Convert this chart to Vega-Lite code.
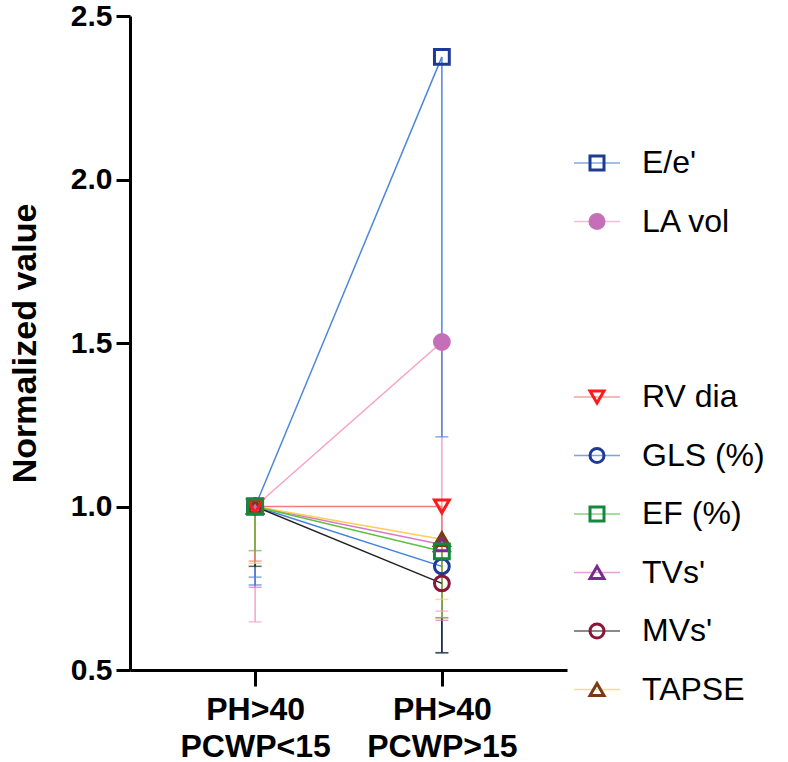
{
  "$schema": "https://vega.github.io/schema/vega-lite/v6.json",
  "width": 437,
  "height": 654,
  "autosize": {"type": "none"},
  "padding": {"left": 130, "top": 16, "right": 221, "bottom": 92},
  "background": "white",
  "config": {
    "view": {"stroke": null},
    "font": "Liberation Sans",
    "axis": {"grid": false, "domainColor": "black", "domainWidth": 3, "tickColor": "black", "tickWidth": 3, "labelColor": "black", "labelFont": "Liberation Sans", "labelFontWeight": "bold", "titleFont": "Liberation Sans", "titleColor": "black"}
  },
  "data": {
    "values": [
      {"series": "LA vol", "group": "PCWP<15", "value": 1.0, "lower": 0.647},
      {"series": "TVs'", "group": "PCWP<15", "value": 1.0, "lower": 0.753},
      {"series": "GLS (%)", "group": "PCWP<15", "value": 1.0, "lower": 0.76},
      {"series": "E/e'", "group": "PCWP<15", "value": 1.0, "lower": 0.784},
      {"series": "MVs'", "group": "PCWP<15", "value": 1.0, "lower": 0.817},
      {"series": "TAPSE", "group": "PCWP<15", "value": 1.0, "lower": 0.826},
      {"series": "RV dia", "group": "PCWP<15", "value": 1.0, "lower": 0.833},
      {"series": "EF (%)", "group": "PCWP<15", "value": 1.0, "lower": 0.865},
      {"series": "LA vol", "group": "PCWP>15", "value": 1.503, "lower": 0.68},
      {"series": "TVs'", "group": "PCWP>15", "value": 0.884, "lower": 0.652},
      {"series": "GLS (%)", "group": "PCWP>15", "value": 0.817, "lower": 0.552},
      {"series": "E/e'", "group": "PCWP>15", "value": 2.375, "lower": 1.213},
      {"series": "MVs'", "group": "PCWP>15", "value": 0.765, "lower": 0.553},
      {"series": "TAPSE", "group": "PCWP>15", "value": 0.9, "lower": 0.716},
      {"series": "RV dia", "group": "PCWP>15", "value": 1.0, "lower": 0.66},
      {"series": "EF (%)", "group": "PCWP>15", "value": 0.863, "lower": 0.66}
    ]
  },
  "encoding": {
    "x": {
      "field": "group", "type": "ordinal",
      "scale": {"type": "point", "padding": 0.67, "domain": ["PCWP<15", "PCWP>15"]},
      "axis": {"title": null, "labelAngle": 0, "labelFontSize": 32, "labelLineHeight": 37, "labelPadding": 8, "tickSize": 16, "labelExpr": "['PH>40', datum.label]"}
    },
    "y": {
      "field": "value", "type": "quantitative",
      "scale": {"domain": [0.5, 2.5], "zero": false, "nice": false},
      "axis": {"title": "Normalized value", "titleFontSize": 34, "titleFontWeight": "bold", "titlePadding": 28, "values": [0.5, 1.0, 1.5, 2.0, 2.5], "format": ".1f", "labelFontSize": 30, "tickSize": 14, "labelPadding": 4}
    }
  },
  "layer": [
    {
      "mark": {"type": "rule", "strokeWidth": 1.5},
      "encoding": {
        "y2": {"field": "lower"},
        "color": {"field": "series", "type": "nominal",
          "scale": {"domain": ["E/e'", "LA vol", "\u2002", "\u2003", "RV dia", "GLS (%)", "EF (%)", "TVs'", "MVs'", "TAPSE"], "range": ["#4f86dc", "#f5a3c7", "transparent", "transparent", "#f57a7a", "#3f7fe0", "#5cc13f", "#d979c9", "#222222", "#ffcc55"]},
          "legend": {"orient": "none", "legendX": 443, "legendY": 123, "title": null, "symbolType": "stroke", "symbolSize": 2116, "symbolStrokeWidth": 1.5, "labelOpacity": 0, "labelExpr": "''", "labelFontSize": 30, "rowPadding": 19.5}}
      }
    },
    {
      "mark": {"type": "tick", "size": 13, "thickness": 1.5},
      "encoding": {
        "y": {"field": "lower", "type": "quantitative"},
        "color": {"field": "series", "type": "nominal",
          "legend": {"orient": "none", "legendX": 443, "legendY": 123, "title": null, "symbolType": "stroke", "symbolSize": 2116, "symbolStrokeWidth": 1.5, "labelOpacity": 0, "labelExpr": "''", "labelFontSize": 30, "rowPadding": 19.5}}
      }
    },
    {
      "mark": {"type": "line", "strokeWidth": 1.5},
      "encoding": {
        "color": {"field": "series", "type": "nominal",
          "legend": {"orient": "none", "legendX": 443, "legendY": 123, "title": null, "symbolType": "stroke", "symbolSize": 2116, "symbolStrokeWidth": 1.5, "labelOpacity": 0, "labelExpr": "''", "labelFontSize": 30, "rowPadding": 19.5}}
      }
    },
    {
      "mark": {"type": "point", "size": 220, "strokeWidth": 3, "opacity": 1},
      "encoding": {
        "shape": {"field": "series", "type": "nominal",
          "scale": {"domain": ["E/e'", "LA vol", " ", "  ", "RV dia", "GLS (%)", "EF (%)", "TVs'", "MVs'", "TAPSE"], "range": ["square", "circle", "M0,0", "M0,0", "triangle-down", "circle", "square", "triangle-up", "circle", "triangle-up"]},
          "legend": {"orient": "none", "legendX": 451, "legendY": 131, "title": null, "labelFontSize": 32, "labelFontWeight": "normal", "labelColor": "black", "labelLimit": 400, "symbolSize": 196, "symbolStrokeWidth": 3, "rowPadding": 26.5, "labelOffset": 29}},
        "stroke": {"field": "series", "type": "nominal",
          "scale": {"domain": ["E/e'", "LA vol", " ", "  ", "RV dia", "GLS (%)", "EF (%)", "TVs'", "MVs'", "TAPSE"], "range": ["#1f3a93", "#c46fb8", "transparent", "transparent", "#ff1a1a", "#1f3a93", "#138a3a", "#7b2a90", "#8b1538", "#7a3a12"]},
          "legend": {"orient": "none", "legendX": 451, "legendY": 131, "title": null, "labelFontSize": 32, "labelFontWeight": "normal", "labelColor": "black", "labelLimit": 400, "symbolSize": 196, "symbolStrokeWidth": 3, "rowPadding": 26.5, "labelOffset": 29}},
        "fill": {"field": "series", "type": "nominal",
          "scale": {"domain": ["E/e'", "LA vol", " ", "  ", "RV dia", "GLS (%)", "EF (%)", "TVs'", "MVs'", "TAPSE"], "range": ["transparent", "#c46fb8", "transparent", "transparent", "transparent", "transparent", "transparent", "transparent", "transparent", "transparent"]},
          "legend": {"orient": "none", "legendX": 451, "legendY": 131, "title": null, "labelFontSize": 32, "labelFontWeight": "normal", "labelColor": "black", "labelLimit": 400, "symbolSize": 196, "symbolStrokeWidth": 3, "rowPadding": 26.5, "labelOffset": 29}}
      }
    }
  ]
}
